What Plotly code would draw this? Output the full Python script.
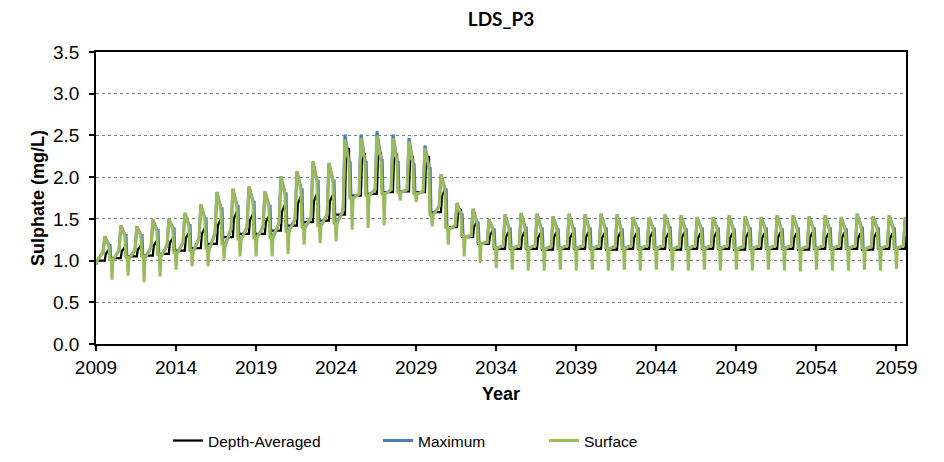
import plotly.graph_objects as go

# ---------------- data ----------------
years = list(range(2009, 2060))

# Surface (green): per-year characteristic levels
g_trough = [0.95, 0.77, 0.82, 0.74, 0.81, 0.89, 0.93, 0.93, 1.01, 1.05,
            1.05, 1.05, 1.08, 1.19, 1.21, 1.23, 1.37, 1.39, 1.42, 1.72,
            1.70, 1.41, 1.19, 1.05, 0.97, 0.91, 0.89, 0.88, 0.88, 0.89,
            0.88, 0.89, 0.88, 0.89, 0.88, 0.89, 0.88, 0.88, 0.89, 0.88,
            0.89, 0.88, 0.89, 0.88, 0.87, 0.89, 0.88, 0.88, 0.89, 0.88,
            0.90]
g_low = [1.00, 1.01, 1.02, 1.03, 1.05, 1.08, 1.10, 1.13, 1.18, 1.25,
         1.28, 1.28, 1.35, 1.40, 1.42, 1.45, 1.75, 1.78, 1.80, 1.82,
         1.80, 1.55, 1.38, 1.28, 1.20, 1.15, 1.15, 1.15, 1.14, 1.15,
         1.15, 1.15, 1.14, 1.15, 1.15, 1.15, 1.14, 1.15, 1.15, 1.15,
         1.14, 1.15, 1.15, 1.15, 1.14, 1.15, 1.15, 1.15, 1.14, 1.15,
         1.15]
g_rise = [1.10, 1.12, 1.13, 1.16, 1.18, 1.22, 1.27, 1.33, 1.38, 1.40,
          1.40, 1.45, 1.50, 1.52, 1.55, 1.60, 1.80, 1.85, 1.85, 1.85,
          1.83, 1.65, 1.42, 1.30, 1.22, 1.18, 1.18, 1.18, 1.17, 1.18,
          1.18, 1.18, 1.17, 1.18, 1.18, 1.18, 1.17, 1.18, 1.18, 1.18,
          1.17, 1.18, 1.18, 1.18, 1.17, 1.18, 1.18, 1.18, 1.17, 1.18,
          1.18]
g_peak = [1.29, 1.42, 1.41, 1.49, 1.50, 1.57, 1.67, 1.82, 1.86, 1.89,
          1.83, 2.01, 2.07, 2.19, 2.17, 2.45, 2.47, 2.50, 2.47, 2.43,
          2.35, 2.03, 1.69, 1.62, 1.49, 1.55, 1.57, 1.56, 1.53, 1.56,
          1.55, 1.56, 1.55, 1.52, 1.52, 1.55, 1.54, 1.52, 1.52, 1.54,
          1.53, 1.52, 1.54, 1.54, 1.53, 1.54, 1.52, 1.56, 1.53, 1.54,
          1.52]
g_fall = [1.18, 1.30, 1.30, 1.36, 1.38, 1.42, 1.50, 1.62, 1.65, 1.70,
          1.65, 1.80, 1.85, 1.95, 1.95, 2.17, 2.18, 2.20, 2.18, 2.15,
          2.10, 1.85, 1.55, 1.45, 1.37, 1.38, 1.39, 1.38, 1.37, 1.38,
          1.38, 1.38, 1.37, 1.38, 1.38, 1.39, 1.37, 1.38, 1.38, 1.37,
          1.38, 1.38, 1.37, 1.38, 1.38, 1.38, 1.37, 1.39, 1.38, 1.38,
          1.38]
g_drop = [1.02, 1.04, 1.05, 1.07, 1.10, 1.12, 1.15, 1.20, 1.26, 1.28,
          1.28, 1.35, 1.40, 1.42, 1.45, 1.75, 1.78, 1.80, 1.82, 1.80,
          1.55, 1.40, 1.30, 1.22, 1.16, 1.15, 1.15, 1.15, 1.15, 1.15,
          1.15, 1.15, 1.15, 1.15, 1.15, 1.15, 1.15, 1.15, 1.15, 1.15,
          1.15, 1.15, 1.15, 1.15, 1.15, 1.15, 1.15, 1.15, 1.15, 1.15,
          1.15]

# Maximum (blue): peaks
m_peak = [1.29, 1.42, 1.41, 1.49, 1.50, 1.57, 1.67, 1.82, 1.86, 1.89,
          1.83, 2.01, 2.07, 2.19, 2.17, 2.51, 2.51, 2.55, 2.51, 2.47,
          2.38, 2.03, 1.69, 1.62, 1.49, 1.55, 1.57, 1.56, 1.53, 1.56,
          1.55, 1.56, 1.55, 1.52, 1.52, 1.55, 1.54, 1.52, 1.52, 1.54,
          1.53, 1.52, 1.54, 1.54, 1.53, 1.54, 1.52, 1.56, 1.53, 1.54,
          1.52]

# Depth-Averaged (black)
k_low = [1.00, 1.03, 1.05, 1.06, 1.08, 1.12, 1.15, 1.20, 1.28, 1.32,
         1.32, 1.36, 1.42, 1.46, 1.48, 1.55, 1.78, 1.80, 1.82, 1.83,
         1.82, 1.58, 1.40, 1.28, 1.20, 1.14, 1.14, 1.14, 1.13, 1.14,
         1.14, 1.14, 1.13, 1.14, 1.14, 1.14, 1.13, 1.14, 1.14, 1.14,
         1.13, 1.14, 1.14, 1.14, 1.13, 1.14, 1.14, 1.14, 1.13, 1.14,
         1.14]
k_knee = [1.08, 1.11, 1.13, 1.18, 1.21, 1.27, 1.32, 1.42, 1.50, 1.48,
          1.46, 1.58, 1.68, 1.71, 1.71, 2.25, 2.20, 2.22, 2.20, 2.17,
          2.17, 1.77, 1.55, 1.40, 1.30, 1.28, 1.28, 1.27, 1.28, 1.27,
          1.28, 1.27, 1.28, 1.27, 1.28, 1.27, 1.28, 1.27, 1.28, 1.27,
          1.28, 1.27, 1.28, 1.27, 1.28, 1.27, 1.28, 1.27, 1.28, 1.27,
          1.28]
k_top = [1.13, 1.16, 1.18, 1.24, 1.27, 1.33, 1.39, 1.50, 1.59, 1.56,
         1.53, 1.67, 1.77, 1.80, 1.79, 2.35, 2.29, 2.30, 2.28, 2.25,
         2.25, 1.85, 1.62, 1.47, 1.37, 1.35, 1.35, 1.34, 1.35, 1.34,
         1.35, 1.34, 1.35, 1.34, 1.35, 1.34, 1.35, 1.34, 1.35, 1.34,
         1.35, 1.34, 1.35, 1.34, 1.35, 1.34, 1.35, 1.34, 1.35, 1.34,
         1.35]

y_ticks = [0.0, 0.5, 1.0, 1.5, 2.0, 2.5, 3.0, 3.5]
x_ticks = [2009, 2014, 2019, 2024, 2029, 2034, 2039, 2044, 2049, 2054, 2059]

# ---------------- assemble time series ----------------
last = len(years) - 1

gx, gy = [], []
mx, my = [], []
kx, ky = [], []
for i, yr in enumerate(years):
    # Surface
    pts = [(0.0, g_trough[i]), (0.06, g_low[i]), (0.44, g_rise[i]), (0.55, g_peak[i])]
    if i < last:
        pts += [(0.80, g_fall[i]), (0.86, g_drop[i]), (0.96, g_drop[i])]
    for f, v in pts:
        gx.append(yr + f); gy.append(v)
    # Maximum
    pts = [(0.0, g_trough[i])] if i == 0 else []
    pts += [(0.06, g_low[i]), (0.44, g_rise[i]), (0.55, m_peak[i])]
    if i < last:
        pts += [(0.82, g_fall[i]), (0.88, g_fall[i]), (0.93, g_drop[i])]
    for f, v in pts:
        mx.append(yr + f); my.append(v)
    # Depth-averaged
    pts = [(0.0, k_low[i]), (0.55, k_low[i]), (0.61, k_knee[i]), (0.80, k_top[i])]
    if i < last:
        pts += [(0.86, k_low[i + 1])]
    for f, v in pts:
        kx.append(yr + f); ky.append(v)

SANS = "Liberation Sans, Arial, sans-serif"

fig = go.Figure()
fig.add_trace(go.Scatter(x=kx, y=ky, mode="lines", name="Depth-Averaged",
                         line=dict(color="#000000", width=2.25), legend="legend"))
fig.add_trace(go.Scatter(x=mx, y=my, mode="lines", name="Maximum",
                         line=dict(color="#4a7ebb", width=3), legend="legend2"))
fig.add_trace(go.Scatter(x=gx, y=gy, mode="lines", name="Surface",
                         line=dict(color="#9bbb59", width=3), legend="legend3"))

# The page body adds an 8 px margin, so the figure is sized to fit inside it.
W, H = 928, 446
leg_common = dict(orientation="h", yanchor="middle", y=-0.332, xanchor="left",
                  bgcolor="rgba(0,0,0,0)", font=dict(family=SANS, size=15.5, color="#000"),
                  itemwidth=30)

fig.update_layout(
    width=W, height=H,
    margin=dict(l=88, r=30, t=44, b=110, autoexpand=False),
    paper_bgcolor="white", plot_bgcolor="white",
    title=dict(text="<b>LDS_P3</b>", x=0.5, xref="paper", xanchor="center",
               y=1 - 11 / H, yref="container", yanchor="middle",
               font=dict(family="Lato, Liberation Sans, sans-serif", size=19, color="#000")),
    legend=dict(x=(160 - 88) / 810, **leg_common),
    legend2=dict(x=(370 - 88) / 810, **leg_common),
    legend3=dict(x=(536 - 88) / 810, **leg_common),
    showlegend=True,
)

fig.update_xaxes(
    range=[2009, 2059.6], tickmode="array", tickvals=x_ticks,
    ticktext=[str(t) for t in x_ticks],
    ticks="outside", ticklen=5, tickcolor="#000", tickwidth=1.5,
    showline=True, linecolor="#000", linewidth=1.5, mirror=True,
    showgrid=False, zeroline=False,
    tickfont=dict(family=SANS, size=19, color="#000"),
    ticklabelstandoff=0,
    title=dict(text="<b>Year</b>", font=dict(family=SANS, size=18, color="#000"), standoff=11),
)
fig.update_yaxes(
    range=[0, 3.5], tickmode="array", tickvals=y_ticks,
    ticktext=[f"{t:.1f}" for t in y_ticks],
    ticks="outside", ticklen=5, tickcolor="#000", tickwidth=1.5,
    showline=True, linecolor="#000", linewidth=1.5, mirror=True,
    showgrid=True, gridcolor="#808080", griddash="dot", gridwidth=1,
    zeroline=False,
    tickfont=dict(family=SANS, size=19, color="#000"),
    ticklabelstandoff=6,
    title=dict(text="<b>Sulphate (mg/L)</b>", font=dict(family=SANS, size=18, color="#000"), standoff=4),
)

fig.write_html("out.html")
